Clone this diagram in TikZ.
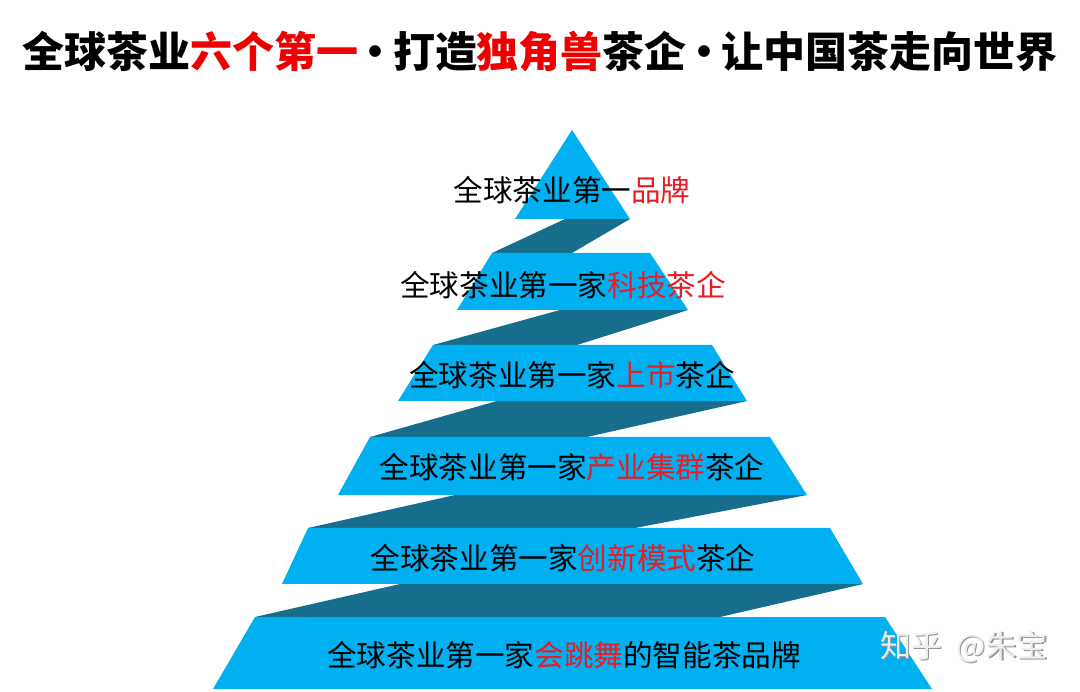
\documentclass[tikz,border=0pt]{standalone}
\usepackage{fontspec}
\newfontfamily\cjk{Noto Sans CJK SC}
\definecolor{lightband}{RGB}{0,176,240}
\definecolor{darkband}{RGB}{23,110,140}
\definecolor{redtext}{RGB}{232,28,36}
\definecolor{titlered}{RGB}{238,0,0}
\definecolor{wmgray}{RGB}{150,150,150}
\definecolor{wmlight}{RGB}{238,238,238}
\tikzset{
  front/.style={fill=lightband, draw=none},
  back/.style={fill=darkband, draw=none},
  lbl/.style={font=\cjk\fontsize{29.6}{29.6}\selectfont, text=black, inner sep=0pt, anchor=center},
  ttl/.style={font=\cjk\bfseries\fontsize{42}{42}\selectfont, text=black, inner sep=0pt, anchor=center},
  wm/.style={font=\cjk\fontsize{31}{31}\selectfont, inner sep=0pt, anchor=west}
}
\begin{document}
\begin{tikzpicture}[x=1pt,y=-1pt]
\useasboundingbox (0,0) rectangle (1080,692);
\fill[white] (0,0) rectangle (1080,692);
% back (dark) folds
\fill[back] (565,219) -- (630,219) -- (572,253) -- (492,253) -- cycle;
\fill[back] (560,310) -- (688,310) -- (577,345) -- (433,345) -- cycle;
\fill[back] (497,401) -- (747,401) -- (587,437) -- (370,437) -- cycle;
\fill[back] (455,495) -- (807,495) -- (635,528) -- (308,528) -- cycle;
\fill[back] (400,584) -- (863,584) -- (720,617) -- (255,617) -- cycle;
% front (light) bands
\fill[front] (572,130) -- (630,219) -- (515,219) -- cycle;
\fill[front] (492,253) -- (650,253) -- (688,310) -- (457,310) -- cycle;
\fill[front] (433,345) -- (712,345) -- (747,401) -- (398,401) -- cycle;
\fill[front] (370,437) -- (770,437) -- (807,495) -- (338,495) -- cycle;
\fill[front] (308,528) -- (830,528) -- (863,584) -- (282,584) -- cycle;
\fill[front] (255,617) -- (885,617) -- (932,689) -- (213,689) -- cycle;
% title
\node[ttl] (title) at (540,51) {全球茶业\textcolor{titlered}{六个第一}\hspace{-4pt}·\hspace{-4pt}打造\textcolor{titlered}{独角兽}茶企\hspace{-4pt}·\hspace{-4pt}让中国茶走向世界};
% labels
\node[lbl] (l1) at (572,190) {全球茶业第一\textcolor{redtext}{品牌}};
\node[lbl] (l2) at (563,285) {全球茶业第一家\textcolor{redtext}{科技茶企}};
\node[lbl] (l3) at (572,375) {全球茶业第一家\textcolor{redtext}{上市}茶企};
\node[lbl] (l4) at (572,467) {全球茶业第一家\textcolor{redtext}{产业集群}茶企};
\node[lbl] (l5) at (563,558) {全球茶业第一家\textcolor{redtext}{创新模式}茶企};
\node[lbl] (l6) at (564,655) {全球茶业第一家\textcolor{redtext}{会跳舞}的智能茶品牌};
% watermark
\node[wm, text=wmgray] (wms) at (881.5,648.5) {知乎\hspace{14pt}@朱宝};
\node[wm, text=wmlight] (wm) at (880,647) {知乎\hspace{14pt}@朱宝};
\end{tikzpicture}
\end{document}
